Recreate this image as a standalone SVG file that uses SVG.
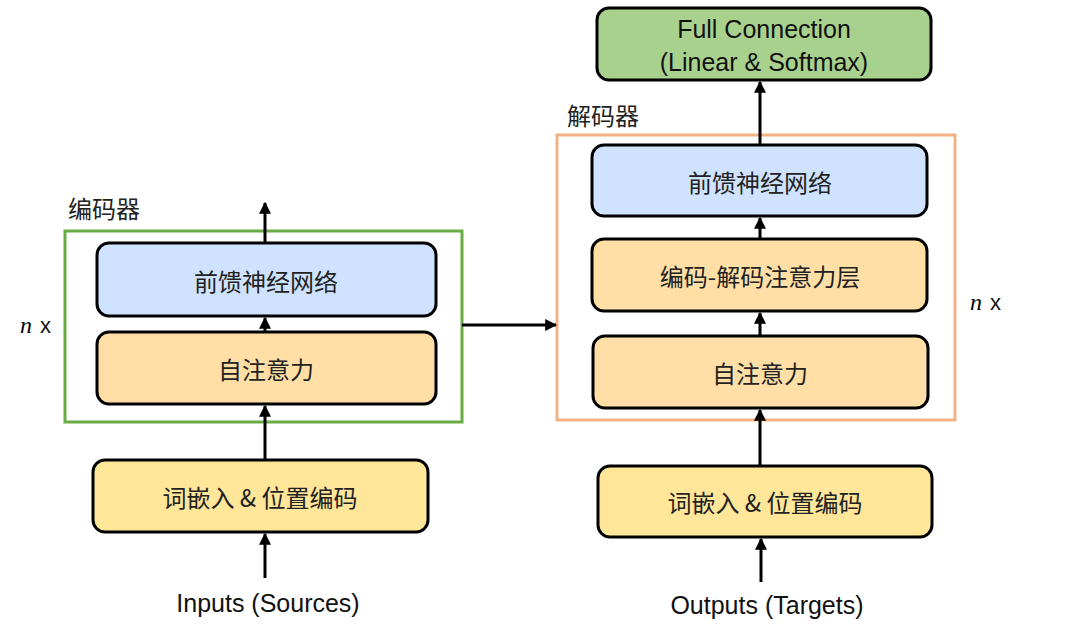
<svg xmlns="http://www.w3.org/2000/svg" width="1080" height="639" viewBox="0 0 1080 639">
<style>
.n{stroke:#000;stroke-width:3}
.b{fill:#CFE2FF}.o{fill:#FFDFA6}.y{fill:#FFE699}.g{fill:#A9D18E}
.t{font-family:"Noto Sans CJK SC","Liberation Sans",sans-serif;font-size:24px;fill:#222;text-anchor:middle;dominant-baseline:central}
.e{font-family:"Liberation Sans",sans-serif;font-size:25px;fill:#111;text-anchor:middle;dominant-baseline:central}
.c{stroke:#000;stroke-width:3;fill:none;marker-end:url(#a)}
</style>
<defs><marker id="a" viewBox="0 0 10 10" refX="9" refY="5" markerWidth="4" markerHeight="4" orient="auto"><path d="M0,0L10,5L0,10z" fill="#000"/></marker></defs>
<rect width="1080" height="639" fill="#fff"/>
<g id="encoder"><rect x="65" y="231" width="397" height="191" fill="none" stroke="#6AAB46" stroke-width="3"/>
<text x="68" y="207" class="t" style="text-anchor:start">编码器</text>
<text x="20" y="325" font-family="Liberation Serif,serif" font-style="italic" font-size="24" dominant-baseline="central">n</text><text x="40" y="325" class="e" style="text-anchor:start;font-size:22px">x</text></g>
<g id="decoder"><rect x="557" y="135" width="398" height="285" fill="none" stroke="#F4B183" stroke-width="3"/>
<text x="567" y="114" class="t" style="text-anchor:start">解码器</text>
<text x="970" y="302" font-family="Liberation Serif,serif" font-style="italic" font-size="24" dominant-baseline="central">n</text><text x="990" y="302" class="e" style="text-anchor:start;font-size:22px">x</text></g>
<g id="enc-ffn"><rect x="97" y="243" width="339" height="73" rx="12" class="n b"/><text x="266" y="280" class="t">前馈神经网络</text></g>
<g id="enc-sa"><rect x="97" y="332" width="339" height="72" rx="12" class="n o"/><text x="266" y="368" class="t">自注意力</text></g>
<g id="enc-emb"><rect x="93" y="460" width="335" height="72" rx="12" class="n y"/><text x="260" y="496" class="t">词嵌入 &amp; 位置编码</text></g>
<g id="inputs"><text x="268" y="603" class="e">Inputs (Sources)</text></g>
<g id="fc"><rect x="597" y="8" width="334" height="72" rx="12" class="n g"/><text x="764" y="29" class="e">Full Connection</text><text x="764" y="62" class="e">(Linear &amp; Softmax)</text></g>
<g id="dec-ffn"><rect x="592" y="145" width="335" height="71" rx="12" class="n b"/><text x="760" y="181" class="t">前馈神经网络</text></g>
<g id="dec-eda"><rect x="592" y="239" width="335" height="72" rx="12" class="n o"/><text x="760" y="275" class="t">编码-解码注意力层</text></g>
<g id="dec-sa"><rect x="593" y="336" width="335" height="72" rx="12" class="n o"/><text x="760" y="372" class="t">自注意力</text></g>
<g id="dec-emb"><rect x="598" y="466" width="334" height="71" rx="12" class="n y"/><text x="765" y="501" class="t">词嵌入 &amp; 位置编码</text></g>
<g id="outputs"><text x="767" y="605" class="e">Outputs (Targets)</text></g>
<g id="connectors">
<path class="c" d="M265,578V534"/><path class="c" d="M265,460V406"/><path class="c" d="M265,332V318"/><path class="c" d="M265,243V203"/>
<path class="c" d="M462,325H556"/>
<path class="c" d="M761,582V539"/><path class="c" d="M760,466V410"/><path class="c" d="M760,336V313"/><path class="c" d="M760,239V218"/><path class="c" d="M760,145V82"/>
</g>
</svg>
